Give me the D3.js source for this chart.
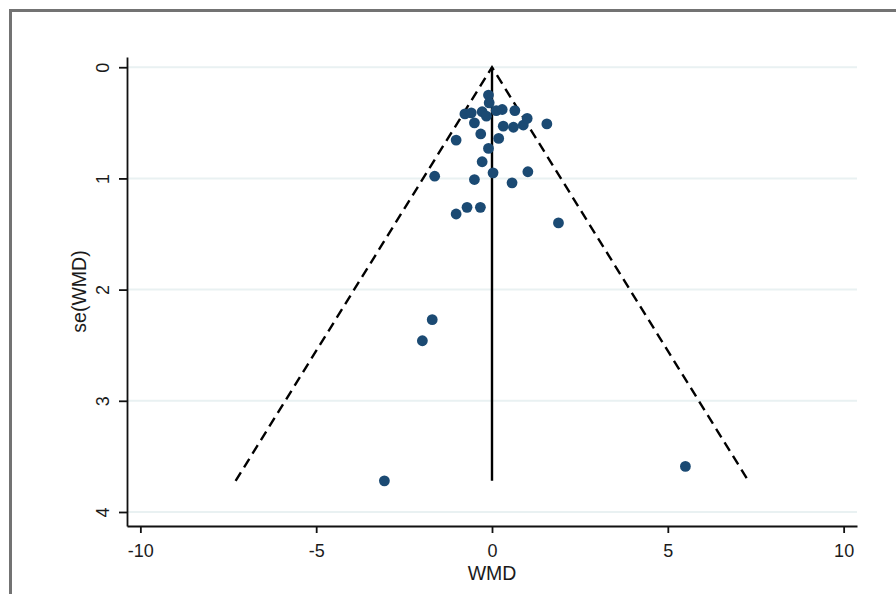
<!DOCTYPE html>
<html>
<head>
<meta charset="utf-8">
<script src="https://cdn.jsdelivr.net/npm/d3@7"></script>
<style>
  body { margin: 0; background: #fff; }
  svg text { font-family: "Liberation Sans", Arial, sans-serif; fill: #1b1b1b; }
</style>
</head>
<body>
<svg id="chart"></svg>
<script>
// study effects (WMD) and their standard errors
const wmd = [-0.10, -0.08, -0.77, -0.59, -0.28, -0.16, 0.12, 0.29, 0.65, -0.50,
             0.32, 0.61, 0.89, 1.00, 1.56, -0.32, -1.02, 0.19, -0.10, -0.28,
             -1.63, -0.50, 0.03, 1.02, 0.57, -0.71, -0.33, -1.02, 1.89, -1.70,
             -1.98, -3.06, 5.50];
const seWmd = [0.25, 0.32, 0.42, 0.41, 0.40, 0.44, 0.39, 0.38, 0.39, 0.50,
               0.53, 0.54, 0.52, 0.46, 0.51, 0.60, 0.655, 0.64, 0.73, 0.85,
               0.98, 1.01, 0.95, 0.94, 1.04, 1.26, 1.26, 1.32, 1.40, 2.27,
               2.46, 3.72, 3.59];
const pooled = 0;
const xTicks = [-10, -5, 0, 5, 10];
const yTicks = [0, 1, 2, 3, 4];

const width = 896, height = 594;
const margin = { top: 57, right: 39, bottom: 68, left: 127 };
const innerW = width - margin.left - margin.right;
const innerH = height - margin.top - margin.bottom;

const svg = d3.select('#chart')
    .attr('width', width)
    .attr('height', height);

// grey frame of the exported graph window
svg.append('rect')
    .attr('x', 10.5).attr('y', 10.5)
    .attr('width', 1000).attr('height', 1000)
    .attr('fill', '#fff')
    .attr('stroke', '#737373')
    .attr('stroke-width', 3);

const chart = svg.append('g')
    .attr('transform', `translate(${margin.left},${margin.top})`);

const xScale = d3.scaleLinear().domain([-10.38, 10.38]).range([0, innerW]);
const yScale = d3.scaleLinear().domain([-0.092, 4.126]).range([0, innerH]);

// gridlines
chart.append('g')
  .selectAll('line')
  .data(yTicks)
  .join('line')
    .attr('x1', 0).attr('x2', innerW)
    .attr('y1', d => yScale(d)).attr('y2', d => yScale(d))
    .attr('stroke', '#e9f1f2')
    .attr('stroke-width', 2);

// axes (stata uses a plain hyphen for negatives)
const xAxisG = chart.append('g')
    .attr('transform', `translate(0,${innerH})`)
    .call(d3.axisBottom(xScale).tickValues(xTicks).tickSize(7).tickSizeOuter(0).tickPadding(0).tickFormat(d => String(d)));
xAxisG.selectAll('text')
    .attr('y', 0).attr('dy', 0)
    .attr('transform', 'translate(0,31)')
    .attr('font-size', 18);

const yAxisG = chart.append('g')
    .call(d3.axisLeft(yScale).tickValues(yTicks).tickSize(8).tickSizeOuter(0).tickFormat(d => String(d)));
yAxisG.selectAll('text')
    .attr('x', 0).attr('dy', 0).attr('y', -18)
    .attr('text-anchor', 'middle')
    .attr('transform', 'rotate(-90)')
    .attr('font-size', 18);

[xAxisG, yAxisG].forEach(g => {
  g.select('.domain').attr('stroke', '#111').attr('stroke-width', 1.8);
  g.selectAll('.tick line').attr('stroke', '#111').attr('stroke-width', 1.8);
});

// axis titles
svg.append('text')
    .attr('x', margin.left + xScale(0))
    .attr('y', 580)
    .attr('text-anchor', 'middle')
    .attr('font-size', 19.5)
    .text('WMD');

svg.append('text')
    .attr('transform', `translate(86,${margin.top + innerH / 2}) rotate(-90)`)
    .attr('text-anchor', 'middle')
    .attr('font-size', 19.5)
    .text('se(WMD)');

// pseudo 95% confidence limits
const seMax = d3.max(seWmd);
const funnel = [[pooled - 1.96 * seMax, seMax], [pooled, 0], [pooled + 1.96 * seMax, seMax]];
chart.append('path')
    .datum(funnel)
    .attr('d', d3.line().x(d => xScale(d[0])).y(d => yScale(d[1])))
    .attr('fill', 'none')
    .attr('stroke', '#000')
    .attr('stroke-width', 2.4)
    .attr('stroke-dasharray', '10,6');

// pooled estimate
chart.append('line')
    .attr('x1', xScale(pooled)).attr('x2', xScale(pooled))
    .attr('y1', yScale(0)).attr('y2', yScale(seMax))
    .attr('stroke', '#000')
    .attr('stroke-width', 2.4);

// studies
chart.append('g')
  .selectAll('circle')
  .data(wmd.map((d, i) => ({ x: d, se: seWmd[i] })))
  .join('circle')
    .attr('cx', d => xScale(d.x))
    .attr('cy', d => yScale(d.se))
    .attr('r', 5.4)
    .attr('fill', '#1b4a73');
</script>
</body>
</html>
